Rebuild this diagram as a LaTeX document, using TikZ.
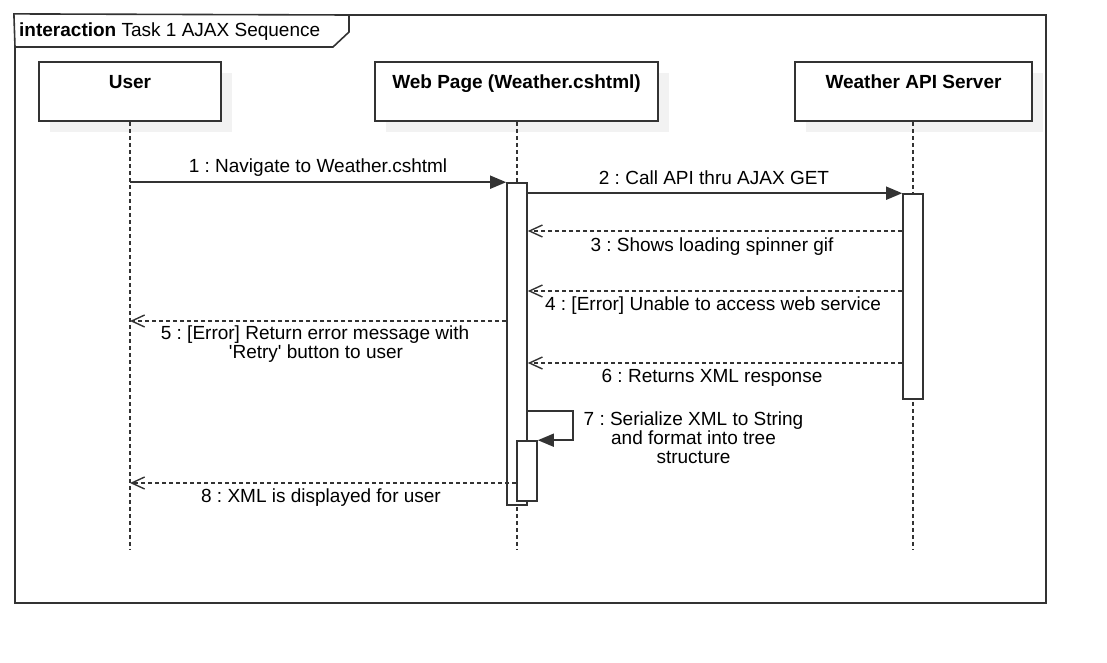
\documentclass[tikz,border=0pt]{standalone}
\usepackage{fontspec}
\setmainfont{Liberation Sans}[Ligatures=TeXOff]
\usetikzlibrary{arrows.meta}
\definecolor{ln}{HTML}{333333}
\frenchspacing
\tikzset{
  lbl/.style={font=\fontsize{19}{19.3}\selectfont, inner sep=0pt, text=black, align=center},
  hlbl/.style={lbl, font=\fontsize{19}{19.3}\selectfont\bfseries},
  headbox/.style={draw=ln, line width=1.6pt, fill=white, inner sep=0pt, minimum height=59pt},
  shade/.style={fill=black!5, draw=none},
  actbox/.style={draw=ln, line width=1.6pt, fill=white, inner sep=0pt, minimum width=20pt},
  life/.style={draw=ln, line width=1.4pt, dash pattern=on 4pt off 3pt},
  syncmsg/.style={draw=ln, line width=1.6pt, -{Triangle[length=16pt,width=13pt]}},
  replymsg/.style={draw=ln, line width=1.4pt, dash pattern=on 4pt off 3pt, -{Straight Barb[length=13pt,width=12pt,line width=1.4pt]}},
}
\begin{document}
\begin{tikzpicture}[x=1pt,y=-1pt]
\useasboundingbox (0,0) rectangle (1107,663);
% frame
\node[draw=ln, line width=2.2pt, inner sep=0pt, minimum width=1031pt, minimum height=588pt] (frame) at (530.5,309) {};
\draw[ln, line width=1.6pt, fill=white] (frame.north west) -- (349,15) -- (349,32) -- (333,47) -- (15,47) -- cycle;
\node[lbl, anchor=base west] (title) at (19,36.7) {\textbf{interaction} Task 1 AJAX Sequence};
% shadows
\fill[shade] (50,73) rectangle (232,132);
\fill[shade] (386,73) rectangle (669,132);
\fill[shade] (806,73) rectangle (1043,132);
% header boxes
\node[headbox, minimum width=182pt] (user) at (130,91.5) {};
\node[headbox, minimum width=283pt] (web) at (516.5,91.5) {};
\node[headbox, minimum width=237pt] (api) at (913.5,91.5) {};
\node[hlbl, anchor=base] (userl) at (130,88.3) {User};
\node[hlbl, anchor=base] (webl) at (516.5,88.3) {Web Page (Weather.cshtml)};
\node[hlbl, anchor=base] (apil) at (913.5,88.3) {Weather API Server};
% lifelines
\coordinate (uend) at (130,550);
\coordinate (wend) at (517,550);
\coordinate (aend) at (913,550);
\draw[life] (user.south) -- (uend);
\draw[life] (web.south -| wend) -- (wend);
\draw[life] (api.south -| aend) -- (aend);
% activations
\node[actbox, minimum height=322pt] (actW) at (517,344) {};
\node[actbox, minimum height=205pt] (actA) at (913,296.5) {};
% message y levels
\coordinate (y3) at (0,231);
\coordinate (y4) at (0,291);
\coordinate (y5) at (0,321);
\coordinate (y6) at (0,363);
\coordinate (y7) at (0,411);
\coordinate (y8) at (0,483);
% messages
\draw[syncmsg] (user.south |- actW.north) -- (actW.north west);
\node[lbl, anchor=base] (m1) at (318,173) {1 : Navigate to Weather.cshtml};
\draw[syncmsg] (actW.east |- actA.north) -- (actA.north west);
\node[lbl, anchor=base] (m2) at (714,185) {2 : Call API thru AJAX GET};
\draw[replymsg] (actA.west |- y3) -- (actW.east |- y3);
\node[lbl, anchor=base] (m3) at (712,251) {3 : Shows loading spinner gif};
\draw[replymsg] (actA.west |- y4) -- (actW.east |- y4);
\node[lbl, anchor=base] (m4) at (713,310) {4 : [Error] Unable to access web service};
\draw[replymsg] (actW.west |- y5) -- (user.south |- y5);
\node[lbl, anchor=base] (m5a) at (315,339.3) {5 : [Error] Return error message with};
\node[lbl, anchor=base] (m5b) at (316,358) {'Retry' button to user};
\draw[replymsg] (actA.west |- y6) -- (actW.east |- y6);
\node[lbl, anchor=base] (m6) at (712,382.7) {6 : Returns XML response};
\node[actbox, minimum height=60pt] (actW2) at (527,471) {};
\draw[syncmsg] (actW.east |- y7) -- ++(45,0) |- (actW2.north east);
\node[lbl, anchor=base] (m7a) at (693.5,425) {7 : Serialize XML to String};
\node[lbl, anchor=base] (m7b) at (693.5,444.5) {and format into tree};
\node[lbl, anchor=base] (m7c) at (693.5,463.5) {structure};
\draw[replymsg] (actW2.west |- y8) -- (user.south |- y8);
\node[lbl, anchor=base] (m8) at (321,502.7) {8 : XML is displayed for user};
\end{tikzpicture}
\end{document}
